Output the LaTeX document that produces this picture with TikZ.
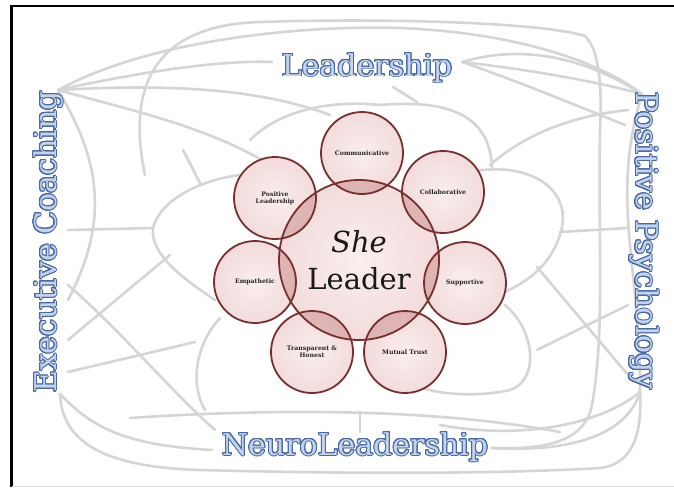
\documentclass[tikz,border=0pt]{standalone}
\usepackage{fontspec}
\setmainfont{DejaVu Serif}
\usepackage[copies]{contour}
\contourlength{1pt}
\contournumber{24}

\definecolor{webgray}{HTML}{D5D5D5}
\definecolor{lblfill}{HTML}{C2D4EE}
\definecolor{lbledge}{HTML}{4A69A3}
\definecolor{rim}{HTML}{76302F}
\definecolor{lens}{HTML}{B25C5C}
\definecolor{bubA}{HTML}{FAEEEE}
\definecolor{bubB}{HTML}{F3DCDC}
\definecolor{bubC}{HTML}{E4B4B4}
\definecolor{bubD}{HTML}{C47E7E}

\pgfdeclareradialshading{bubble}{\pgfpoint{0bp}{0bp}}{%
  color(0bp)=(bubA); color(24bp)=(bubB); color(41bp)=(bubC); color(50bp)=(bubD)}

\tikzset{
  web/.style={draw=webgray, line width=2.6pt, line cap=round},
  biglbl/.style={font=\fontsize{30}{32}\selectfont, text=lblfill, inner sep=0pt, anchor=base},
  disc/.style={circle, inner sep=0pt, shading=bubble, align=center,
               font=\fontsize{6.2}{7.2}\selectfont\bfseries, text=black!85},
  small/.style={disc, minimum size=82pt},
  big/.style={disc, minimum size=160pt, font=\fontsize{29}{37}\selectfont, text=black!90},
  rimline/.style={draw=rim, line width=1.8pt},
  lensfill/.style={fill=lens, fill opacity=0.32}
}

\begin{document}
\begin{tikzpicture}[x=1pt, y=-1pt]
\useasboundingbox (0,0) rectangle (674,487);
\fill[white] (0,0) rectangle (674,487);

% hubs at the ends of the four theme labels
\coordinate (ECt) at (58,90);
\coordinate (ECb) at (60,394);
\coordinate (PPt) at (642,94);
\coordinate (PPb) at (640,392);
\coordinate (Ll) at (272,62);
\coordinate (Lr) at (462,62);
\coordinate (Nl) at (212,450);
\coordinate (Nr) at (492,448);

% background web of curves
\draw[web] (ECt) .. controls (150,40) and (300,25) .. (400,28) .. controls (500,32) and (590,55) .. (PPt);
\draw[web] (ECt) .. controls (140,72) and (220,60) .. (Ll);
\draw[web] (ECt) .. controls (150,85) and (250,85) .. (330,115);
\draw[web] (ECt) .. controls (130,110) and (200,125) .. (262,160);
\draw[web] (145,175) .. controls (125,80) and (160,25) .. (260,22)
          .. controls (380,18) and (540,22) .. (585,36)
          .. controls (600,50) and (602,90) .. (600,130)
          .. controls (598,250) and (605,330) .. (592,405)
          .. controls (585,440) and (550,450) .. (Nr);
\draw[web] (Lr) .. controls (520,45) and (580,55) .. (PPt);
\draw[web] (Lr) .. controls (530,70) and (590,80) .. (PPt);
\draw[web] (Lr) .. controls (520,82) and (575,105) .. (625,125);
\draw[web] (250,140) .. controls (280,110) and (330,100) .. (380,105)
          .. controls (440,100) and (490,110) .. (492,168);
\draw[web] (470,172) .. controls (530,160) and (575,190) .. (560,235)
          .. controls (550,265) and (530,280) .. (505,292);
\draw[web] (505,305) .. controls (535,330) and (540,380) .. (510,390)
          .. controls (480,397) and (440,395) .. (420,387);
\draw[web] (240,175) .. controls (200,180) and (160,200) .. (153,228)
          .. controls (150,255) and (185,280) .. (215,300);
\draw[web] (220,318) .. controls (195,345) and (190,385) .. (205,410);
\draw[web] (130,418) .. controls (250,410) and (420,406) .. (560,432);
\draw[web] (ECb) .. controls (62,440) and (100,467) .. (200,470)
          .. controls (350,474) and (500,474) .. (600,468)
          .. controls (635,464) and (642,430) .. (PPb);
\draw[web] (ECb) .. controls (90,425) and (120,445) .. (Nl);
\draw[web] (440,425) .. controls (520,440) and (600,425) .. (PPb);
\draw[web] (Nr) .. controls (560,452) and (625,440) .. (PPb);
\draw[web] (68,230) -- (153,228);
\draw[web] (560,232) -- (628,228);
\draw[web] (68,372) -- (195,342);
\draw[web] (170,255) -- (68,340);
\draw[web] (537,267) -- (628,375);
\draw[web] (537,350) -- (628,305);
\draw[web] (183,150) -- (200,183);
\draw[web] (68,285) .. controls (120,330) and (170,390) .. (215,430);
\draw[web] (393,87) -- (417,102);
\draw[web] (360,412) -- (360,432);
\draw[web] (490,165) .. controls (530,130) and (580,115) .. (628,110);
\draw[web] (ECt) .. controls (100,160) and (110,220) .. (68,300);
\draw[web] (PPt) .. controls (610,200) and (640,260) .. (PPb);

% frame
\draw[line width=2.2pt] (674,6) -- (11.5,6) -- (11.5,487);
\draw[black!12, line width=0.8pt] (11.5,486) -- (674,486);

% the central bubble and its seven petals
\node[big] (she) at (359,260) {\textit{She}\\Leader};
\node[small] (comm) at (362,153) {Communicative};
\node[small] (coll) at (443,192) {Collaborative};
\node[small] (supp) at (465,283) {Supportive};
\node[small] (trust) at (405,352) {Mutual Trust};
\node[small] (hon) at (312,352) {Transparent \&\\Honest};
\node[small] (emp) at (255,282) {Empathetic};
\node[small] (posl) at (275,198) {Positive\\Leadership};

% darker lenses where each petal overlaps the centre
\begin{scope}
  \clip (she.center) circle[radius=80];
  \foreach \n in {comm,coll,supp,trust,hon,emp,posl}
    \fill[lensfill] (\n.center) circle[radius=41];
\end{scope}

% outlines on top, so both rims show in every overlap
\draw[rimline] (she.center) circle[radius=80];
\foreach \n in {comm,coll,supp,trust,hon,emp,posl}
  \draw[rimline] (\n.center) circle[radius=41];

% theme labels
\node[biglbl] (lead) at (367,76) {\contour{lbledge}{Leadership}};
\node[biglbl, rotate=90] (exec) at (56,242) {\contour{lbledge}{Executive Coaching}};
\node[biglbl, rotate=-90] (pos) at (636,241) {\contour{lbledge}{Positive Psychology}};
\node[biglbl] (neuro) at (355,455) {\contour{lbledge}{NeuroLeadership}};
\end{tikzpicture}
\end{document}
